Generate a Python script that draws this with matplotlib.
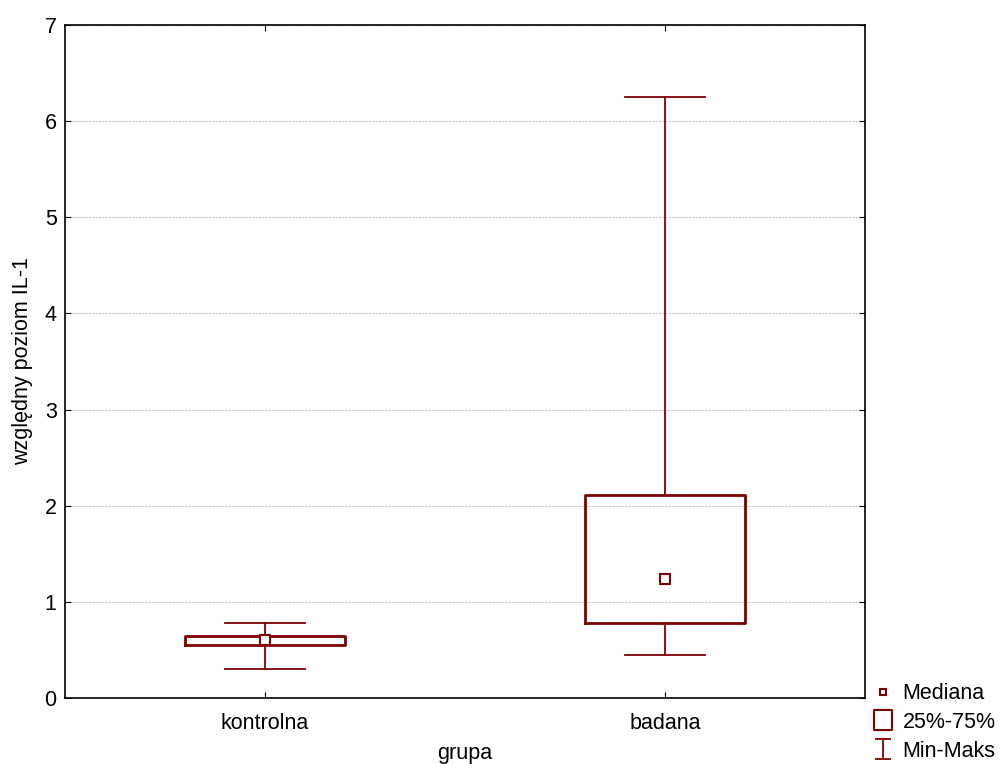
import matplotlib
matplotlib.use('Agg')
import matplotlib.pyplot as plt
from matplotlib.lines import Line2D
from matplotlib.path import Path

plt.rcParams['font.family'] = ['Liberation Sans', 'DejaVu Sans']
plt.rcParams['font.size'] = 15.5

groups = ['kontrolna', 'badana']
mins = [0.30, 0.45]
q1s = [0.55, 0.78]
medians = [0.60, 1.24]
q3s = [0.645, 2.11]
maxs = [0.78, 6.25]

col = '#800000'

fig = plt.figure(figsize=(10.02, 7.64), dpi=100)
ax = fig.add_axes([0.0649, 0.0864, 0.7984, 0.8809])

stats = []
for i in range(len(groups)):
    stats.append({'label': groups[i], 'whislo': mins[i], 'q1': q1s[i],
                  'med': medians[i], 'q3': q3s[i], 'whishi': maxs[i]})

pos = list(range(len(groups)))
ax.bxp(stats, positions=pos, widths=0.4, showfliers=False,
       boxprops=dict(color=col, linewidth=2),
       whiskerprops=dict(color=col, linewidth=1.3),
       capprops=dict(color=col, linewidth=1.3),
       medianprops=dict(linestyle='none'),
       capwidths=0.2, zorder=3)
ax.plot(pos, medians, 's', markersize=6.5, markerfacecolor='white',
        markeredgecolor=col, markeredgewidth=1.5, linestyle='none', zorder=4)

ax.set_xlim(-0.5, 1.5)
ax.set_ylim(0, 7)
ax.set_yticks(range(0, 8))
ax.set_xticks(pos)
ax.set_xticklabels(groups)
ax.grid(axis='y', linestyle=(0, (2, 1)), color='#c4c4c4', linewidth=0.8)
ax.set_axisbelow(True)
ax.tick_params(direction='in', length=4, color='black', right=True, top=True)
ax.tick_params(axis='x', pad=11)
ax.tick_params(axis='y', pad=6)
ax.set_xlabel('grupa', labelpad=6)
ax.set_ylabel('względny poziom IL-1', labelpad=8)
for s in ax.spines.values():
    s.set_linewidth(1.2)

ibeam = Path([(-0.4, 0.5), (0.4, 0.5), (0, 0.5), (0, -0.5), (-0.4, -0.5), (0.4, -0.5)],
             [Path.MOVETO, Path.LINETO, Path.MOVETO, Path.LINETO, Path.MOVETO, Path.LINETO])
box = Path([(-0.45, -0.5), (0.45, -0.5), (0.45, 0.5), (-0.45, 0.5), (-0.45, -0.5)],
           [Path.MOVETO, Path.LINETO, Path.LINETO, Path.LINETO, Path.CLOSEPOLY])
handles = [
    Line2D([], [], marker='s', markersize=5, markerfacecolor='white',
           markeredgecolor=col, markeredgewidth=1.5, linestyle='none'),
    Line2D([], [], marker=box, markersize=15, markerfacecolor='white',
           markeredgecolor=col, markeredgewidth=1.5, linestyle='none'),
    Line2D([], [], marker=ibeam, markersize=15, markerfacecolor='none',
           markeredgecolor=col, markeredgewidth=1.3, linestyle='none'),
]
fig.legend(handles, ['Mediana', '25%-75%', 'Min-Maks'], loc='lower left',
           bbox_to_anchor=(0.862, -0.008), frameon=False, handlelength=1.0,
           handletextpad=0.4, labelspacing=0.35, borderaxespad=0.0,
           fontsize=15.5)

fig.savefig('out.png', dpi=100)
